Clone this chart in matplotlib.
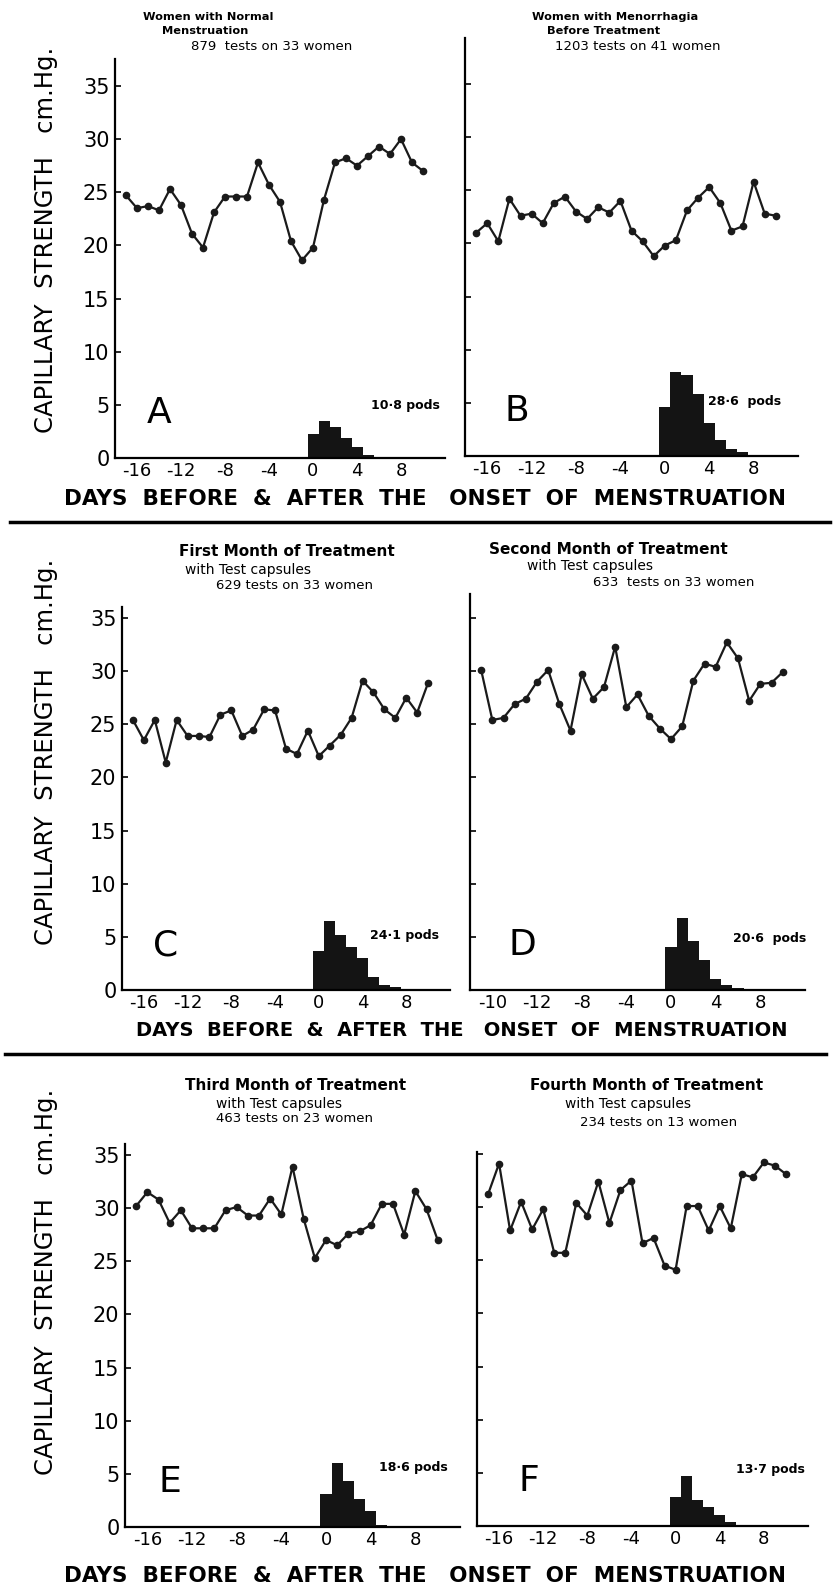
import matplotlib
matplotlib.use('Agg')
import matplotlib.pyplot as plt
from matplotlib.lines import Line2D

W, H = 839, 1589

# days before/after onset of menstruation
days = list(range(-17, 11))

# capillary strength (cm Hg), one value per day
strength_a = [24.7, 23.5, 23.7, 23.3, 25.3, 23.8, 21.1, 19.8, 23.1, 24.6, 24.6, 24.6, 27.8, 25.7,
              24.1, 20.4, 18.6, 19.8, 24.3, 27.8, 28.2, 27.5, 28.4, 29.3, 28.6, 30.0, 27.8, 27.0]
strength_b = [21.0, 21.9, 20.2, 24.2, 22.6, 22.8, 21.9, 23.8, 24.4, 23.0, 22.3, 23.4, 22.9, 24.0,
              21.2, 20.2, 18.8, 19.8, 20.3, 23.1, 24.3, 25.3, 23.8, 21.2, 21.6, 25.8, 22.8, 22.6]
strength_c = [25.4, 23.5, 25.4, 21.4, 25.4, 23.9, 23.9, 23.8, 25.9, 26.3, 23.9, 24.5, 26.4, 26.3,
              22.7, 22.2, 24.4, 22.0, 23.0, 24.0, 25.6, 29.1, 28.0, 26.4, 25.6, 27.5, 26.1, 28.9]
strength_d = [30.1, 25.4, 25.6, 26.9, 27.4, 29.0, 30.1, 26.9, 24.4, 29.7, 27.4, 28.5, 32.3, 26.6,
              27.8, 25.8, 24.6, 23.6, 24.8, 29.1, 30.7, 30.4, 32.7, 31.2, 27.2, 28.8, 28.9, 29.9]
strength_e = [30.2, 31.5, 30.8, 28.6, 29.8, 28.1, 28.1, 28.1, 29.8, 30.1, 29.3, 29.3, 30.9, 29.4,
              33.9, 29.0, 25.3, 27.0, 26.5, 27.6, 27.8, 28.4, 30.4, 30.4, 27.5, 31.6, 29.9, 27.0]
strength_f = [31.2, 34.1, 27.8, 30.5, 27.9, 29.8, 25.7, 25.7, 30.4, 29.2, 32.4, 28.5, 31.6, 32.5,
              26.6, 27.1, 24.5, 24.1, 30.1, 30.1, 27.8, 30.1, 28.0, 33.1, 32.8, 34.2, 33.9, 33.1]

# pads per day, starting at day 0
pads_a = [2.3, 3.5, 2.9, 1.9, 1.0, 0.3]
pads_b = [4.6, 7.9, 7.6, 5.8, 3.1, 1.5, 0.7, 0.35, 0.1]
pads_c = [3.7, 6.5, 5.2, 4.0, 3.0, 1.2, 0.5, 0.25]
pads_d = [4.0, 6.8, 4.6, 2.8, 1.0, 0.45, 0.15]
pads_e = [3.1, 6.0, 4.3, 2.6, 1.5, 0.2]
pads_f = [2.7, 4.7, 2.4, 1.8, 1.0, 0.4]

letters = ['A', 'B', 'C', 'D', 'E', 'F']
pods_labels = ['10·8 pods', '28·6  pods', '24·1 pods', '20·6  pods', '18·6 pods', '13·7 pods']
count_labels = ['879  tests on 33 women', '1203 tests on 41 women',
                '629 tests on 33 women', '633  tests on 33 women',
                '463 tests on 23 women', '234 tests on 13 women']
titles = [('Women with Normal', 'Menstruation'),
          ('Women with Menorrhagia', 'Before Treatment'),
          ('First Month of Treatment', 'with Test capsules'),
          ('Second Month of Treatment', 'with Test capsules'),
          ('Third Month of Treatment', 'with Test capsules'),
          ('Fourth Month of Treatment', 'with Test capsules')]
xtick_vals = [-16, -12, -8, -4, 0, 4, 8]
xtick_labels = ['-16', '-12', '-8', '-4', '0', '4', '8']
xtick_labels_d = ['-10', '-12', '-8', '-4', '0', '4', '8']
ytick_vals = [0, 5, 10, 15, 20, 25, 30, 35]

strengths = [strength_a, strength_b, strength_c, strength_d, strength_e, strength_f]
pads = [pads_a, pads_b, pads_c, pads_d, pads_e, pads_f]

# panel boxes in pixels: left axis x, right end x, y of zero, top of y axis (data units)
boxes = [(115, 445, 458, 37.5), (465, 798, 456, 39.3),
         (122, 450, 990, 36.0), (470, 805, 990, 37.3),
         (125, 460, 1527, 36.0), (477, 808, 1526, 35.2)]
px_per_unit = 10.63

# title / annotation positions in pixels
title_pos = [((143, 17), (162, 31)), ((532, 17), (547, 31)),
             ((179, 552), (185, 570)), ((489, 549), (527, 566)),
             ((185, 1086), (216, 1104)), ((530, 1086), (565, 1104))]
count_pos = [(272, 47), (638, 47), (294, 586), (674, 582), (294, 1118), (659, 1123)]
pods_pos = [(405, 405), (745, 401), (405, 936), (770, 939), (413, 1468), (770, 1469)]

fig = plt.figure(figsize=(W / 100, H / 100), dpi=100)


def fx(x):
    return x / W


def fy(y):
    return 1 - y / H


for i in range(6):
    left, right, y0, ytop = boxes[i]
    height = ytop * px_per_unit
    ax = fig.add_axes([fx(left), fy(y0), (right - left) / W, height / H])
    ax.set_xlim(-18, 12)
    ax.set_ylim(0, ytop)

    ax.bar(range(len(pads[i])), pads[i], width=1.0, color='#141414', align='center')
    ax.plot(days, strengths[i], color='#1a1a1a', lw=1.6, marker='o', ms=4.5)

    for s in ['top', 'right']:
        ax.spines[s].set_visible(False)
    ax.spines['left'].set_linewidth(1.6)
    ax.spines['bottom'].set_linewidth(1.6)

    ax.set_xticks(xtick_vals)
    ax.set_xticklabels(xtick_labels_d if i == 3 else xtick_labels, fontsize=13)
    ax.tick_params(axis='x', length=0, pad=3)
    ax.set_yticks(ytick_vals)
    ax.tick_params(axis='y', direction='in', length=4, width=1.2, pad=4)
    if i % 2 == 0:
        ax.set_yticklabels([str(v) for v in ytick_vals], fontsize=15)
    else:
        ax.set_yticklabels([])

    ax.text(-14 if i % 2 == 0 else -13.3, 4.2, letters[i], fontsize=26,
            ha='center', va='center')

    (t1x, t1y), (t2x, t2y) = title_pos[i]
    tsize1 = 8.2 if i < 2 else 11
    tsize2 = 8.2 if i < 2 else 10
    fig.text(fx(t1x), fy(t1y), titles[i][0], fontsize=tsize1, fontweight='bold',
             ha='left', va='center')
    fig.text(fx(t2x), fy(t2y), titles[i][1], fontsize=tsize2,
             fontweight='bold' if i < 2 else 'normal', ha='left', va='center')
    cx, cy = count_pos[i]
    fig.text(fx(cx), fy(cy), count_labels[i], fontsize=9.5, ha='center', va='center')
    px, py = pods_pos[i]
    fig.text(fx(px), fy(py), pods_labels[i], fontsize=9, fontweight='bold',
             ha='center', va='center')

# shared labels per row
ylabel_y = [240, 752, 1282]
xlabel_y = [499, 1031, 1576]
xlabel_x = [425, 462, 425]
xlabel_size = [15.5, 14, 15.5]
for r in range(3):
    fig.text(fx(46), fy(ylabel_y[r]), 'CAPILLARY  STRENGTH   cm.Hg.', rotation=90,
             fontsize=17.5, ha='center', va='center')
    fig.text(fx(xlabel_x[r]), fy(xlabel_y[r]),
             'DAYS  BEFORE  &  AFTER  THE   ONSET  OF  MENSTRUATION',
             fontsize=xlabel_size[r], fontweight='bold', ha='center', va='center')

# separator rules between rows
fig.add_artist(Line2D([fx(10), fx(830)], [fy(522), fy(522)], color='black', lw=2.5))
fig.add_artist(Line2D([fx(5), fx(826)], [fy(1054), fy(1054)], color='black', lw=2.5))

fig.savefig('out.png', dpi=100, facecolor='white')
